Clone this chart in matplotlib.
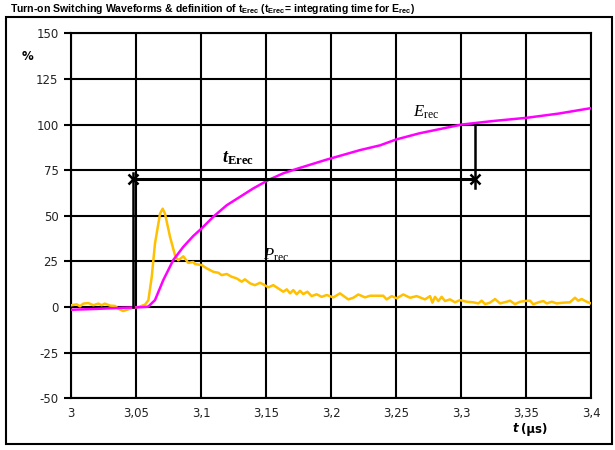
import matplotlib
matplotlib.use("Agg")
import matplotlib.pyplot as plt
from matplotlib.patches import Rectangle

plt.rcParams['axes.unicode_minus'] = False
plt.rcParams['mathtext.fontset'] = 'custom'
plt.rcParams['mathtext.rm'] = 'Liberation Serif'
plt.rcParams['mathtext.it'] = 'Liberation Serif:italic'
plt.rcParams['mathtext.bf'] = 'Liberation Serif:bold'
plt.rcParams['mathtext.bfit'] = 'Liberation Serif:bold:italic'
plt.rcParams['mathtext.sf'] = 'Liberation Sans:bold'

# ---- data ----
p_t = [3.0005, 3.0044, 3.0069, 3.0095, 3.0133, 3.0172, 3.021, 3.0236, 3.026, 3.030,
       3.0338, 3.0364, 3.0402, 3.0441, 3.0479, 3.0518, 3.0569, 3.0595, 3.0621, 3.0646,
       3.0685, 3.0705, 3.0723, 3.0762, 3.080, 3.0825, 3.0864, 3.0902, 3.094,
       3.0954, 3.1005, 3.1044, 3.1095, 3.1133, 3.1159, 3.1198, 3.1236, 3.1274, 3.1313,
       3.1338, 3.1377, 3.1415, 3.1454, 3.148, 3.1518, 3.1556, 3.1595, 3.1633, 3.166,
       3.1685, 3.171, 3.1736, 3.1762, 3.1787, 3.1818, 3.1851, 3.189, 3.1928, 3.1967,
       3.2018, 3.2069, 3.2133, 3.2172, 3.221, 3.2262, 3.23, 3.2402, 3.2428, 3.2467,
       3.2505, 3.2556, 3.2608, 3.2659, 3.2723, 3.2762, 3.278, 3.28, 3.2826, 3.2851,
       3.2877, 3.2915, 3.2954, 3.2992, 3.3044, 3.3095, 3.3133, 3.3159, 3.3185, 3.3223,
       3.3262, 3.33, 3.3351, 3.3377, 3.3415, 3.3454, 3.3492, 3.3531, 3.3556, 3.3595,
       3.3633, 3.366, 3.3698, 3.3736, 3.3787, 3.3838, 3.3877, 3.3902, 3.3928, 3.3967,
       3.4]
p_val = [1.0, 1.5, 0.4, 1.9, 2.2, 1.0, 1.9, 1.0, 1.9, 0.8,
         0.6, -0.9, -2.2, -1.2, -0.3, 0.0, 1.3, 3.7, 16.5, 34.8,
         51.2, 53.9, 51.2, 38.4, 28.4, 25.6, 27.8, 24.2, 24.7,
         23.6, 23.0, 21.2, 19.3, 18.8, 17.5, 18.1, 16.6, 15.7, 13.9,
         15.2, 13.0, 12.0, 13.3, 12.4, 10.8, 12.0, 10.2, 8.4, 9.7,
         7.5, 9.3, 7.0, 8.9, 7.1, 8.4, 6.0, 7.0, 5.6, 6.6,
         5.3, 7.5, 4.2, 5.1, 6.9, 5.3, 6.2, 6.2, 4.2, 6.0,
         4.8, 6.9, 5.1, 6.0, 4.2, 6.0, 2.4, 5.6, 3.3, 5.6,
         3.3, 4.2, 2.6, 3.8, 2.9, 2.6, 2.0, 3.5, 1.6, 2.4,
         4.4, 2.0, 2.9, 3.5, 1.6, 2.9, 3.3, 3.5, 1.5, 2.6,
         3.3, 2.0, 2.9, 2.0, 2.4, 2.6, 5.1, 3.5, 4.4, 2.9,
         2.0]

e_t = [3.0, 3.02, 3.04, 3.05, 3.058, 3.0595, 3.0646, 3.071, 3.0787, 3.0864,
       3.094, 3.1005, 3.1095, 3.1198, 3.13, 3.1402, 3.1518, 3.1633, 3.1749,
       3.1967, 3.2223, 3.2377, 3.25, 3.268, 3.3005, 3.3255, 3.3505, 3.375, 3.4]
e_val = [-1.5, -1.0, -0.4, -0.2, 0.1, 0.3, 3.8, 14.8, 25.8, 33.0,
         38.9, 43.1, 49.5, 55.8, 60.4, 65.0, 69.6, 73.3, 76.0,
         80.8, 86.0, 88.6, 91.8, 95.2, 100.0, 102.0, 103.7, 106.0, 109.0]

t_start, t_end, t_level = 3.048, 3.311, 70.3

x_ticks = [3.0, 3.05, 3.1, 3.15, 3.2, 3.25, 3.3, 3.35, 3.4]
x_labels = ['3', '3,05', '3,1', '3,15', '3,2', '3,25', '3,3', '3,35', '3,4']
y_ticks = [-50, -25, 0, 25, 50, 75, 100, 125, 150]

# ---- figure ----
fig = plt.figure(figsize=(6.15, 4.5), dpi=100)
ax = fig.add_axes([71/615, 1-398.3/450, 520/615, 365/450])

ax.set_xlim(3.0, 3.4)
ax.set_ylim(-50, 150)
ax.set_xticks(x_ticks)
ax.set_xticklabels(x_labels)
ax.set_yticks(y_ticks)
ax.tick_params(axis='x', length=0, pad=6, labelsize=8.5, labelcolor='#222222',
               labelfontfamily='DejaVu Sans')
ax.tick_params(axis='y', length=5, width=1.5, direction='out', pad=4, labelsize=8.5,
               labelcolor='#222222', labelfontfamily='DejaVu Sans')
ax.grid(True, color='black', linewidth=1.5)
for s in ax.spines.values():
    s.set_linewidth(1.5)
    s.set_color('black')

ax.plot(p_t, p_val, color='#FFC000', linewidth=1.8, zorder=3)
ax.plot(e_t, e_val, color='#FF00FF', linewidth=1.8, zorder=4)

# t_Erec marker
ax.plot([t_start, t_end], [t_level, t_level], color='black', linewidth=2.2, zorder=5)
ax.plot([t_start, t_start], [0, t_level + 3], color='black', linewidth=1.8, zorder=5)
ax.plot([t_end, t_end], [100, t_level - 5], color='black', linewidth=1.8, zorder=5)
ax.plot([t_start, t_end], [t_level, t_level], linestyle='none', marker='x',
        markersize=7, markeredgewidth=1.8, color='black', zorder=6)

ax.text(3.1285, 81.5, r'$\mathbfit{t}_{\mathbf{Erec}}$', fontsize=13,
        ha='center', va='center', zorder=7)
ax.text(3.273, 107, r'$E_{\mathrm{rec}}$', fontsize=12, ha='center', va='center', zorder=7)
ax.text(3.158, 28.5, r'$P_{\mathrm{rec}}$', fontsize=12, ha='center', va='center', zorder=7)

# title
fig.text(10/615, 1-8.5/450,
         r'Turn-on Switching Waveforms & definition of $\mathsf{t_{Erec}}$ '
         r'($\mathsf{t_{Erec}}$= integrating time for $\mathsf{E_{rec}}$)',
         fontsize=7.6, fontweight='bold', family='Liberation Sans',
         ha='left', va='center')

# axis labels
fig.text(27.5/615, 1-57/450, '%', fontsize=8.5, fontweight='bold',
         family='DejaVu Sans', ha='center', va='center')
fig.text(547/615, 1-429/450, '(µs)', fontsize=8.5, fontweight='bold',
         family='DejaVu Sans', ha='right', va='center')
fig.text(518/615, 1-429/450, 't', fontsize=8.5, fontweight='bold', fontstyle='italic',
         family='DejaVu Sans', ha='right', va='center')

# outer border
fig.patches.append(Rectangle((6/615, 6/450), 606/615, 427.3/450, transform=fig.transFigure,
                             fill=False, edgecolor='black', linewidth=1.5))

fig.savefig('out.png', dpi=100)
